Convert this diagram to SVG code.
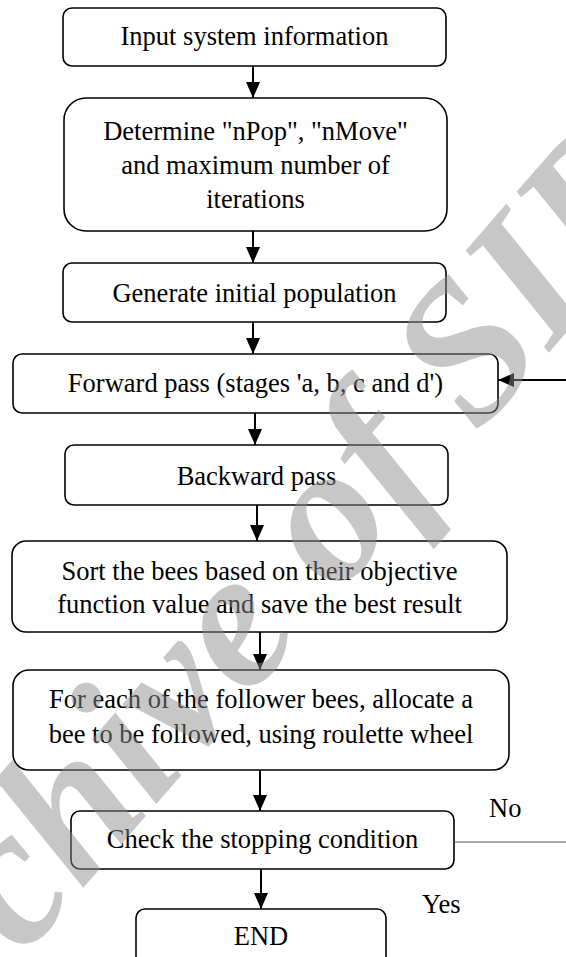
<svg xmlns="http://www.w3.org/2000/svg" width="566" height="957" viewBox="0 0 566 957">
<style>
.box{fill:none;stroke:#000;stroke-width:1.6}
.t{font-family:"Liberation Serif","Times New Roman",serif;font-size:26.5px;text-anchor:middle;fill:#000}
.lbl{font-family:"Liberation Serif","Times New Roman",serif;font-size:26.5px;fill:#000}
.c{stroke:#000;stroke-width:2;fill:none}
.thin{stroke:#555;stroke-width:1.2;fill:none}
.wm{font-family:"Liberation Serif","Times New Roman",serif;font-size:198px;font-weight:bold;font-style:italic;fill:#8c8c8c;opacity:0.48}
</style>
<defs>
<marker id="ah" markerUnits="userSpaceOnUse" markerWidth="16" markerHeight="14" refX="16" refY="7" orient="auto">
<path d="M0,0 L16,7 L0,14 z" fill="#000"/>
</marker>
</defs>
<rect width="566" height="957" fill="#fff"/>
<g id="n1"><rect class="box" x="63" y="8" width="383" height="58" rx="9"/><text class="t" x="254.5" y="45">Input system information</text></g>
<g id="n2"><rect class="box" x="64" y="98" width="383" height="133" rx="22"/><text class="t" x="255.5" y="140">Determine "nPop", "nMove"</text><text class="t" x="255.5" y="174">and maximum number of</text><text class="t" x="255.5" y="208">iterations</text></g>
<g id="n3"><rect class="box" x="63" y="263" width="383" height="59" rx="9"/><text class="t" x="254.5" y="302">Generate initial population</text></g>
<g id="n4"><rect class="box" x="13" y="354" width="485" height="59" rx="9"/><text class="t" x="255.5" y="392">Forward pass (stages 'a, b, c and d')</text></g>
<g id="n5"><rect class="box" x="65" y="445" width="383" height="60" rx="9"/><text class="t" x="256.5" y="485">Backward pass</text></g>
<g id="n6"><rect class="box" x="12" y="541" width="495" height="91" rx="14"/><text class="t" x="259.5" y="580">Sort the bees based on their objective</text><text class="t" x="259.5" y="613">function value and save the best result</text></g>
<g id="n7"><rect class="box" x="13" y="670" width="496" height="100" rx="16"/><text class="t" x="261" y="708">For each of the follower bees, allocate a</text><text class="t" x="261" y="743">bee to be followed, using roulette wheel</text></g>
<g id="n8"><rect class="box" x="71" y="811" width="383" height="58" rx="9"/><text class="t" x="262.5" y="848">Check the stopping condition</text></g>
<g id="n9"><rect class="box" x="136" y="909" width="250" height="60" rx="9"/><text class="t" x="261" y="945">END</text></g>
<g id="connectors">
<line class="c" x1="253" y1="66" x2="253" y2="98" marker-end="url(#ah)"/>
<line class="c" x1="253" y1="231" x2="253" y2="263" marker-end="url(#ah)"/>
<line class="c" x1="253" y1="322" x2="253" y2="354" marker-end="url(#ah)"/>
<line class="c" x1="255" y1="413" x2="255" y2="445" marker-end="url(#ah)"/>
<line class="c" x1="257" y1="505" x2="257" y2="541" marker-end="url(#ah)"/>
<line class="c" x1="260" y1="632" x2="260" y2="670" marker-end="url(#ah)"/>
<line class="c" x1="260" y1="770" x2="260" y2="811" marker-end="url(#ah)"/>
<line class="c" x1="261" y1="869" x2="261" y2="909" marker-end="url(#ah)"/>
<line class="c" x1="566" y1="380" x2="498" y2="380" marker-end="url(#ah)"/>
<line class="thin" x1="454" y1="842" x2="566" y2="842"/>
<text class="lbl" x="489" y="817">No</text>
<text class="lbl" x="422" y="913">Yes</text>
</g>
<text class="wm" transform="translate(-114,1115) rotate(-49)">Archive of SID</text>
</svg>
